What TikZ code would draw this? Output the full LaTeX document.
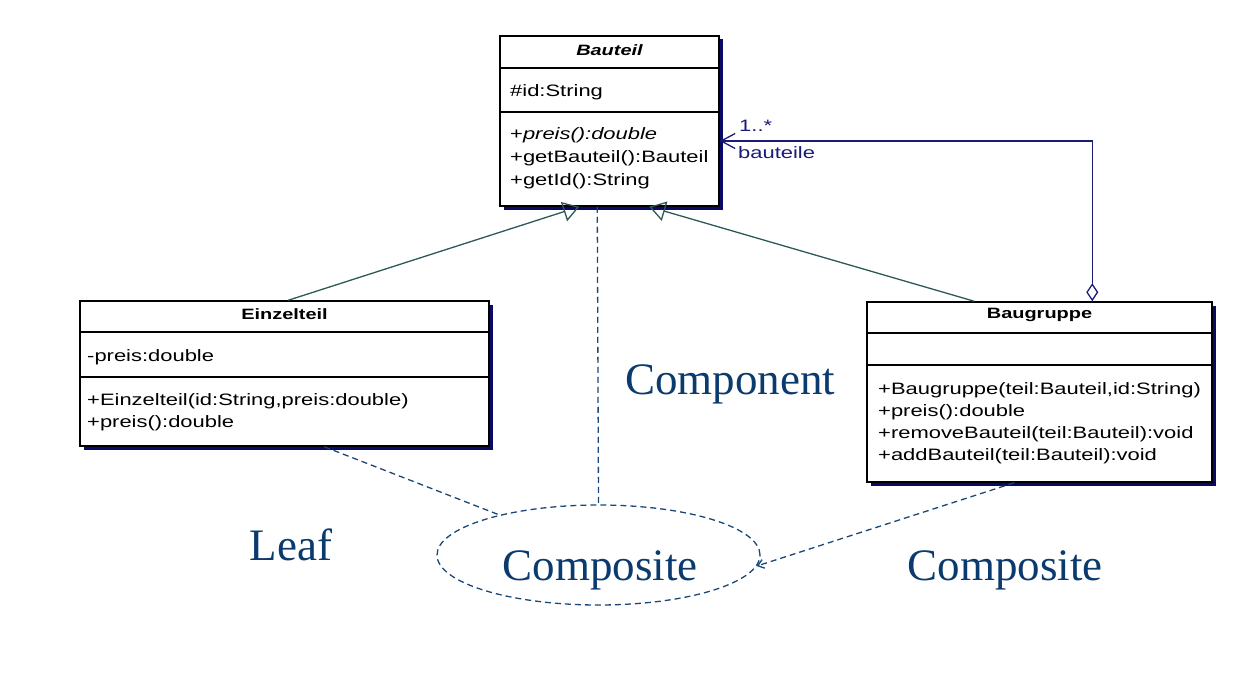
\documentclass[tikz,border=0pt]{standalone}
\usepackage{fontspec}
\setmainfont{Liberation Serif}
\newfontfamily\umlfont[FakeStretch=1.33]{Liberation Sans}
\usetikzlibrary{arrows.meta,shapes.geometric,shadows}
\definecolor{navy}{HTML}{1A1A78}
\definecolor{shadowc}{HTML}{0A0A66}
\definecolor{genc}{HTML}{2E5858}
\definecolor{dashc}{HTML}{1A4775}
\definecolor{bigc}{HTML}{0A3A6E}
\begin{document}
\begin{tikzpicture}[x=1pt,y=-1pt,
  classbox/.style={draw=black, line width=1.5pt, fill=white, inner sep=0pt,
    drop shadow={shadow xshift=3.5pt, shadow yshift=-3.5pt, fill=shadowc, opacity=1}},
  divider/.style={line width=1.2pt, black},
  title/.style={font=\umlfont\fontsize{15}{18}\selectfont\bfseries, inner sep=0pt},
  member/.style={font=\umlfont\fontsize{16.5}{19}\selectfont, anchor=west, inner sep=0pt},
  gen/.style={genc, line width=1.3pt, -{Triangle[open, length=16pt, width=20pt]}},
  agg/.style={navy, line width=1.3pt, {Diamond[open, length=18pt, width=12pt]}-{Straight Barb[length=14pt, width=15pt]}},
  dashline/.style={dashc, line width=1.3pt, dash pattern=on 6pt off 4pt},
  big/.style={font=\fontsize{45}{54}\selectfont, text=bigc, inner sep=0pt}
]
\useasboundingbox (0,0) rectangle (1241,695);

% Bauteil
\node[classbox, minimum width=219pt, minimum height=170pt] (bauteil) at (609.5,121) {};
\draw[divider] (bauteil.west |- 0,68) -- (bauteil.east |- 0,68);
\draw[divider] (bauteil.west |- 0,112) -- (bauteil.east |- 0,112);
\node[title, font=\umlfont\fontsize{15}{18}\selectfont\bfseries\itshape] (bt) at (609.5,50) {Bauteil};
\node[member] (bt1) at (510,92) {\#id:String};
\node[member] (bt2) at (510,135) {+\textit{preis():double}};
\node[member] (bt3) at (510,158) {+getBauteil():Bauteil};
\node[member] (bt4) at (510,181) {+getId():String};

% Einzelteil
\node[classbox, minimum width=409pt, minimum height=145pt] (einz) at (284.5,373.5) {};
\draw[divider] (einz.west |- 0,332) -- (einz.east |- 0,332);
\draw[divider] (einz.west |- 0,377) -- (einz.east |- 0,377);
\node[title] (et) at (284.5,314) {Einzelteil};
\node[member] (et1) at (87,357) {-preis:double};
\node[member] (et2) at (87,401) {+Einzelteil(id:String,preis:double)};
\node[member] (et3) at (87,423) {+preis():double};

% Baugruppe
\node[classbox, minimum width=345pt, minimum height=180pt] (baug) at (1039.5,392) {};
\draw[divider] (baug.west |- 0,333) -- (baug.east |- 0,333);
\draw[divider] (baug.west |- 0,365) -- (baug.east |- 0,365);
\node[title] (bg) at (1039.5,315) {Baugruppe};
\node[member] (bg1) at (878,390) {+Baugruppe(teil:Bauteil,id:String)};
\node[member] (bg2) at (878,412) {+preis():double};
\node[member] (bg3) at (878,434) {+removeBauteil(teil:Bauteil):void};
\node[member] (bg4) at (878,456) {+addBauteil(teil:Bauteil):void};

% generalizations
\draw[gen] ([xshift=209pt]einz.north west) -- ([xshift=80pt]bauteil.south west);
\draw[gen] ([xshift=108pt]baug.north west) -- ([xshift=150pt]bauteil.south west);

% aggregation
\draw[agg] ([xshift=226pt]baug.north west) |- ([yshift=-20pt]bauteil.east);
\node[member, text=navy] (mult) at (739,126) {1..*};
\node[member, text=navy] (role) at (738,153) {bauteile};

% pattern labels
\node[big] (component) at (730,384) {Component};
\node[big] (leaf) at (291,545) {Leaf};
\node[big] (compright) at (1005,570) {Composite};
\node[ellipse, draw=dashc, line width=1.3pt, dash pattern=on 6pt off 4pt,
      minimum width=323pt, minimum height=100pt, inner sep=0pt] (comp) at (598.5,555) {};
\node[big] (complabel) at (600,570) {Composite};

% dashed connectors
\draw[dashline] ([xshift=98pt]bauteil.south west) -- (comp.north);
\draw[dashline] ([xshift=245pt]einz.south west) -- (comp.158);
\draw[dashline, -{Straight Barb[length=6pt, width=9pt]}] ([xshift=148pt]baug.south west) -- (comp.-4);
\end{tikzpicture}
\end{document}
